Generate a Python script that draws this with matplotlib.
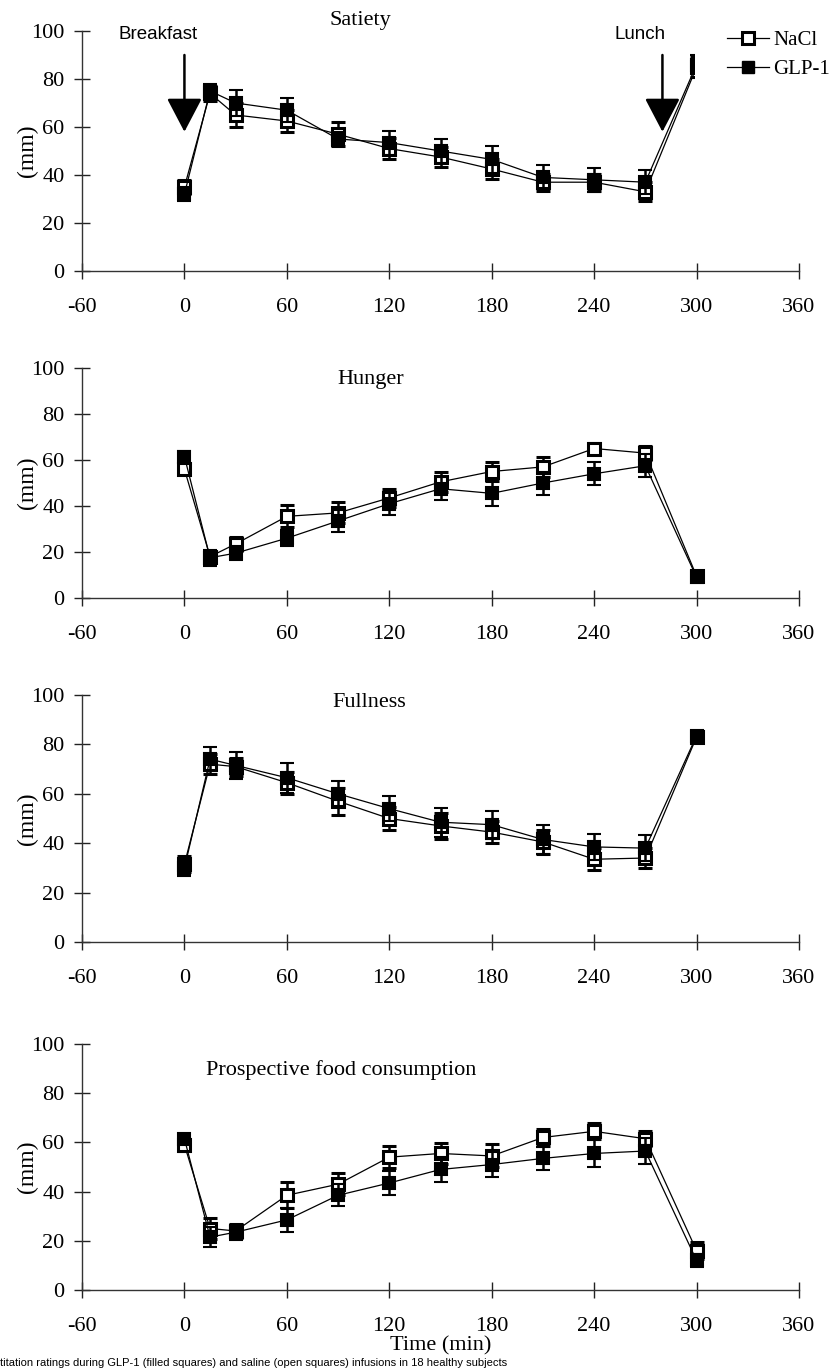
import matplotlib
matplotlib.use("Agg")
import matplotlib.pyplot as plt
from matplotlib.patches import Rectangle
from matplotlib.lines import Line2D
import numpy as np

plt.rcParams['axes.unicode_minus'] = False

# tiempos de medida (min)
tiempo = [0, 15, 30, 60, 90, 120, 150, 180, 210, 240, 270, 300]

# valores medios (mm) y SEM para cada escala
saciedad_nacl = [35, 74, 65, 62.5, 57, 51, 47.5, 42.5, 37, 37, 33, 85]
saciedad_nacl_err = [3, 3, 5, 4.5, 5, 4.5, 4, 4, 3.5, 3.5, 4, 4]
saciedad_glp = [32, 75, 70, 67, 55, 53.5, 50, 46.5, 39, 38, 37, 86]
saciedad_glp_err = [3, 3, 5.5, 5, 3, 5, 5, 5.5, 5, 5, 5, 4]

hambre_nacl = [56, 18, 23.5, 35.5, 37, 43.5, 50.5, 55, 57, 65, 63, 9.5]
hambre_nacl_err = [2, 2, 3, 4.8, 4.6, 4.1, 4.4, 4.3, 4.3, 2.2, 2.9, 2]
hambre_glp = [61.5, 17.5, 19.5, 26, 33.5, 41, 47.5, 45.5, 50, 54, 57.5, 9]
hambre_glp_err = [2.2, 3.4, 2.9, 3.6, 4.6, 4.9, 5.1, 5.3, 5, 5, 4.9, 2]

llenura_nacl = [31.5, 72, 71, 64.5, 57, 50, 47, 44.5, 40.5, 33.5, 34, 83]
llenura_nacl_err = [3.3, 4, 3.6, 4.4, 5.4, 4.7, 5.3, 4.3, 4.7, 4.5, 4, 2]
llenura_glp = [30, 74, 71.5, 66.5, 60, 54, 48.5, 47.5, 41.5, 38.5, 38, 83.5]
llenura_glp_err = [3.4, 4.9, 5.6, 6, 5, 5, 5.9, 5.7, 5.7, 5.3, 5.3, 2]

prospectivo_nacl = [59, 25, 24, 38.5, 43, 54, 55.5, 54.5, 62, 64.5, 61.5, 16]
prospectivo_nacl_err = [2.5, 4.1, 3, 5.2, 4.4, 4.4, 4.4, 4.7, 3.3, 3.3, 3.1, 3.4]
prospectivo_glp = [61.5, 21.5, 23.5, 28.5, 38.5, 43.5, 49, 51, 53.5, 55.5, 56.5, 12]
prospectivo_glp_err = [2, 4, 3, 4.8, 4.4, 4.7, 5, 5.1, 4.7, 5.6, 5.3, 2.7]

titulos = ['Satiety', 'Hunger', 'Fullness', 'Prospective food consumption']
pos_titulo = [(103, 104.5), (109, 95), (108, 97), (12.5, 89.5)]
ha_titulo = ['center', 'center', 'center', 'left']

nacl = [saciedad_nacl, hambre_nacl, llenura_nacl, prospectivo_nacl]
nacl_err = [saciedad_nacl_err, hambre_nacl_err, llenura_nacl_err, prospectivo_nacl_err]
glp = [saciedad_glp, hambre_glp, llenura_glp, prospectivo_glp]
glp_err = [saciedad_glp_err, hambre_glp_err, llenura_glp_err, prospectivo_glp_err]

serif = 'Liberation Serif'
sans = 'Liberation Sans'
fs = 16

fig = plt.figure(figsize=(8.36, 13.68), dpi=100)

# posiciones de los ejes en pixeles (arriba, abajo) -> fraccion de la figura
H = 1368.0
cajas = [(31, 271), (368, 598), (695, 942), (1044, 1290)]
izq, der = 82 / 836, 799 / 836

ejes = []
for i, (top, bot) in enumerate(cajas):
    ax = fig.add_axes([izq, 1 - bot / H, der - izq, (bot - top) / H])
    ejes.append(ax)

    ax.errorbar(tiempo, nacl[i], yerr=nacl_err[i], color='k', lw=0.9,
                marker='s', ms=8, mfc='white', mec='k', mew=2.2,
                ecolor='k', elinewidth=1.8, capsize=5, capthick=2.2, zorder=3)
    ax.errorbar(tiempo, glp[i], yerr=glp_err[i], color='k', lw=0.9,
                marker='s', ms=9, mfc='k', mec='k', mew=1.5,
                ecolor='k', elinewidth=1.8, capsize=5, capthick=2.2, zorder=4)

    ax.set_xlim(-60, 360)
    ax.set_ylim(0, 100)
    ax.set_xticks(np.arange(-60, 361, 60))
    ax.set_yticks(np.arange(0, 101, 20))
    for s in ['top', 'right']:
        ax.spines[s].set_visible(False)
    for s in ['left', 'bottom']:
        ax.spines[s].set_linewidth(1.0)
        ax.spines[s].set_color('#333333')
    ax.tick_params(direction='inout', length=11, width=1.0, color='#222222')
    ax.tick_params(axis='y', pad=7)
    ax.tick_params(axis='x', pad=14)
    for lab in ax.get_xticklabels() + ax.get_yticklabels():
        lab.set_fontfamily(serif)
        lab.set_fontsize(fs)
    ax.set_ylabel('(mm)', fontfamily=serif, fontsize=fs + 1)
    ax.yaxis.set_label_coords(-0.062, 0.5)
    ax.text(pos_titulo[i][0], pos_titulo[i][1], titulos[i], ha=ha_titulo[i],
            va='center', fontfamily=serif, fontsize=fs, clip_on=False)

ax1 = ejes[0]
# flechas de comidas
for x, txt, xt in [(0, 'Breakfast', -15.5), (280, 'Lunch', 267)]:
    ax1.annotate('', xy=(x, 58), xytext=(x, 90),
                 arrowprops=dict(arrowstyle='-|>,head_width=1.1,head_length=2.1',
                                 color='k', lw=1.8, shrinkA=0, shrinkB=0))
    ax1.text(xt, 98.5, txt, ha='center', va='center', fontfamily=sans,
             fontsize=13.5, clip_on=False)

# fondo blanco de la leyenda (tapa la parte final de la curva de saciedad)
fig.add_artist(Rectangle((695 / 836, 1 - 80 / H), 141 / 836, 80 / H,
                         transform=fig.transFigure, facecolor='white',
                         edgecolor='none', zorder=10))
handles = [Line2D([], [], color='k', lw=0.9, marker='s', ms=8, mfc='white', mec='k', mew=2.2),
           Line2D([], [], color='k', lw=0.9, marker='s', ms=9, mfc='k', mec='k')]
leg = fig.legend(handles, ['NaCl', 'GLP-1'], loc='upper left',
                 bbox_to_anchor=(712 / 836, 1 - 16 / H), frameon=False,
                 prop={'family': serif, 'size': 15}, handlelength=2.05,
                 handletextpad=0.2, labelspacing=0.45, borderpad=0.2)
leg.set_zorder(11)

ejes[-1].set_xlabel('Time (min)', fontfamily=serif, fontsize=fs, labelpad=0)

fig.text(0.0, 1 - 1368 / H,
         'titation ratings during GLP-1 (filled squares) and saline (open squares) '
         'infusions in 18 healthy subjects',
         ha='left', va='bottom', fontfamily=sans, fontsize=8)

fig.savefig('out.png', dpi=100)
